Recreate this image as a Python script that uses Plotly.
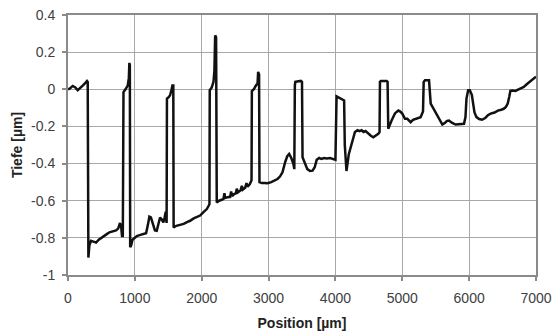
import plotly.graph_objects as go

position_um = [
    0, 30, 70, 110, 145, 180, 220, 260, 284, 295,
    305, 320, 345, 380, 420, 460, 494, 540, 580, 620, 670, 718, 750, 778, 795, 808, 820,
    830, 860, 893, 910, 918, 925,
    930, 945, 965, 993, 1030, 1070, 1118, 1168, 1195, 1217, 1240, 1270, 1300, 1327,
    1350, 1377, 1400, 1427, 1445, 1462, 1475,
    1480, 1500, 1527, 1550, 1562, 1575,
    1580, 1620, 1677, 1730, 1780, 1826, 1880, 1940, 1976, 2030, 2076, 2100, 2116,
    2120, 2150, 2176, 2190, 2201, 2215,
    2225, 2260, 2300, 2325, 2340, 2350, 2400, 2425, 2440, 2455, 2485, 2510, 2525, 2540,
    2580, 2600, 2615, 2650, 2670, 2685, 2720, 2745,
    2750, 2780, 2810, 2835, 2844, 2858,
    2864, 2900, 2940, 2984, 3040, 3090, 3133, 3170, 3208, 3250, 3280, 3308, 3340, 3370, 3385,
    3393, 3400, 3483, 3500,
    3508, 3540, 3580, 3620, 3658, 3690, 3720, 3757, 3790, 3830, 3870, 3920, 3960, 3992, 4000,
    4017, 4050, 4117, 4130,
    4140, 4165, 4200, 4242, 4270, 4292, 4330, 4360, 4391, 4420, 4450, 4491, 4530, 4566, 4610, 4641, 4660,
    4666, 4680, 4765, 4780,
    4790, 4840, 4890, 4940, 4970, 5000, 5040, 5075, 5100, 5125, 5160, 5200, 5240, 5274, 5310,
    5320, 5340, 5400,
    5425, 5460, 5499, 5540, 5575, 5599, 5640, 5670, 5699, 5740, 5798, 5860, 5923, 5945,
    5960, 5985, 6010, 6040, 6060, 6080, 6110, 6150, 6193, 6240, 6280, 6322, 6380, 6430, 6480,
    6517, 6550, 6577, 6600, 6617, 6650, 6692, 6740, 6780, 6817, 6870, 6930, 6991, 7000,
]

depth_um = [
    0.0, 0.005, 0.018, 0.01, -0.005, 0.005, 0.02, 0.035, 0.045, 0.04,
    -0.906, -0.84, -0.816, -0.82, -0.825, -0.81, -0.8, -0.79, -0.78, -0.77, -0.765, -0.76, -0.75, -0.72, -0.74, -0.79, -0.79,
    -0.015, 0.0, 0.02, 0.06, 0.142, 0.13,
    -0.85, -0.84, -0.81, -0.8, -0.79, -0.785, -0.78, -0.775, -0.73, -0.686, -0.69, -0.73, -0.76, -0.762,
    -0.72, -0.69, -0.7, -0.717, -0.69, -0.66, -0.72,
    -0.05, -0.045, -0.032, 0.0, 0.02, 0.02,
    -0.744, -0.735, -0.73, -0.725, -0.715, -0.708, -0.695, -0.685, -0.68, -0.66, -0.645, -0.63, -0.618,
    -0.005, 0.01, 0.04, 0.1, 0.29, 0.28,
    -0.609, -0.6, -0.595, -0.59, -0.56, -0.585, -0.58, -0.58, -0.55, -0.575, -0.564, -0.56, -0.535, -0.555,
    -0.545, -0.52, -0.54, -0.53, -0.505, -0.525, -0.51, -0.49,
    -0.01, 0.0, 0.02, 0.03, 0.094, 0.08,
    -0.5, -0.505, -0.505, -0.506, -0.5, -0.49, -0.483, -0.47, -0.447, -0.39, -0.36, -0.348, -0.37, -0.4, -0.43,
    0.02, 0.04, 0.045, 0.04,
    -0.366, -0.4, -0.43, -0.44, -0.438, -0.42, -0.38, -0.37, -0.375, -0.37, -0.372, -0.37, -0.375, -0.38, -0.38,
    -0.038, -0.045, -0.06, -0.06,
    -0.3, -0.44, -0.35, -0.294, -0.25, -0.23, -0.22, -0.225, -0.22, -0.23, -0.225, -0.24, -0.25, -0.258, -0.25, -0.24, -0.23,
    0.04, 0.045, 0.045, 0.04,
    -0.213, -0.168, -0.13, -0.114, -0.12, -0.131, -0.159, -0.159, -0.17, -0.177, -0.165, -0.16, -0.155, -0.15, -0.12,
    0.04, 0.049, 0.049,
    -0.077, -0.1, -0.122, -0.15, -0.18, -0.19, -0.18, -0.17, -0.168, -0.18, -0.19, -0.19, -0.186, -0.15,
    -0.05, -0.005, -0.005, -0.03, -0.08, -0.125, -0.15, -0.16, -0.164, -0.155, -0.14, -0.131, -0.125, -0.115, -0.11,
    -0.105, -0.095, -0.077, -0.04, -0.009, -0.007, -0.009, 0.0, 0.007, 0.013, 0.03, 0.048, 0.067, 0.068,
]

x_ticks = [0, 1000, 2000, 3000, 4000, 5000, 6000, 7000]
y_ticks = [-1, -0.8, -0.6, -0.4, -0.2, 0, 0.2, 0.4]
y_tick_labels = ["-1", "-0.8", "-0.6", "-0.4", "-0.2", "0", "0.2", "0.4"]

fig = go.Figure(
    go.Scatter(
        x=position_um, y=depth_um, mode="lines",
        line=dict(color="#111111", width=2.5),
        showlegend=False,
    )
)

font_family = "Liberation Sans, Arial, sans-serif"
axis_common = dict(
    showgrid=True, gridcolor="#a8a8a8", gridwidth=1,
    zeroline=False, automargin=False,
    showline=True, linecolor="#8a8a8a", linewidth=2, mirror=True,
    ticks="outside", ticklen=4, tickcolor="#8a8a8a", tickwidth=1.5,
    tickfont=dict(family=font_family, size=14, color="#404040"),
)

fig.update_layout(
    width=552, height=331,
    margin=dict(l=68, r=16, t=15, b=56, autoexpand=False),
    paper_bgcolor="white", plot_bgcolor="white",
    font=dict(family=font_family, size=14, color="#222222"),
    xaxis=dict(
        range=[0, 7000], tickvals=x_ticks,
        ticklabelstandoff=5,
        title=dict(text="Position [µm]", standoff=13,
                   font=dict(family=font_family, size=14, color="#222222", weight="bold")),
        **axis_common,
    ),
    yaxis=dict(
        range=[-1, 0.4], tickvals=y_ticks, ticktext=y_tick_labels,
        ticklabelstandoff=4,
        title=dict(text="Tiefe [µm]", standoff=5,
                   font=dict(family=font_family, size=14, color="#222222", weight="bold")),
        **axis_common,
    ),
)

fig.write_html(
    "out.html",
    config={"displayModeBar": False},
    post_script="document.body.style.margin='0';document.body.style.padding='0';document.body.style.overflow='hidden';",
)
